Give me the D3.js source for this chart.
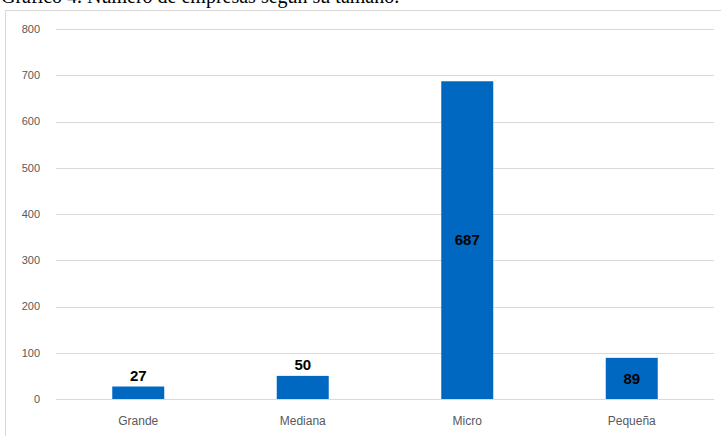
<!DOCTYPE html>
<html>
<head>
<meta charset="utf-8">
<script src="https://cdn.jsdelivr.net/npm/d3@7"></script>
<style>
body { margin: 0; background: #fff; }
svg { display: block; }
</style>
</head>
<body>
<svg></svg>
<script>
// datos del gráfico
var categories = ["Grande", "Mediana", "Micro", "Pequeña"];
var values = [27, 50, 687, 89];
var yTicks = [0, 100, 200, 300, 400, 500, 600, 700, 800];
var title = "Gráfico 4. Número de empresas según su tamaño.";

var svgWidth = 721, svgHeight = 436;
var plotLeft = 56, plotRight = 714, plotTop = 29, plotBottom = 399;

var svg = d3.select('svg')
    .attr("width", svgWidth)
    .attr("height", svgHeight);

// titulo (cortado arriba, como en la imagen)
svg.append("text")
    .attr("x", 1)
    .attr("y", 3)
    .attr("font-family", "Liberation Serif, Times New Roman, serif")
    .attr("font-size", 20)
    .attr("fill", "#000")
    .text(title);

// marco del grafico
svg.append("rect")
    .attr("x", 5.5)
    .attr("y", 10.5)
    .attr("width", 716)
    .attr("height", 430)
    .attr("fill", "none")
    .attr("stroke", "#d9d9d9");

var xScale = d3.scaleBand()
    .domain(categories)
    .range([plotLeft, plotRight])
    .paddingInner(0.684)
    .paddingOuter(0.342);

var yScale = d3.scaleLinear()
    .domain([0, 800])
    .range([plotBottom, plotTop]);

// rejilla
svg.selectAll("line.grid")
    .data(yTicks)
    .enter()
    .append("line")
    .attr("class", "grid")
    .attr("x1", plotLeft)
    .attr("x2", plotRight)
    .attr("y1", function (d) { return Math.round(yScale(d)) + 0.5; })
    .attr("y2", function (d) { return Math.round(yScale(d)) + 0.5; })
    .attr("stroke", "#d9d9d9")
    .attr("stroke-width", 1);

// etiquetas eje y
svg.selectAll("text.ytick")
    .data(yTicks)
    .enter()
    .append("text")
    .attr("class", "ytick")
    .attr("x", 40)
    .attr("y", function (d) { return yScale(d); })
    .attr("dy", "0.35em")
    .attr("text-anchor", "end")
    .attr("font-family", "Liberation Sans, Arial, sans-serif")
    .attr("font-size", 11)
    .attr("fill", "#595959")
    .text(function (d) { return d; });

// barras
svg.selectAll("rect.bar")
    .data(values)
    .enter()
    .append("rect")
    .attr("class", "bar")
    .attr("x", function (d, i) { return xScale(categories[i]); })
    .attr("y", function (d) { return yScale(d); })
    .attr("width", xScale.bandwidth())
    .attr("height", function (d) { return yScale(0) - yScale(d); })
    .attr("fill", "#0068c0");

// etiquetas de datos
svg.selectAll("text.val")
    .data(values)
    .enter()
    .append("text")
    .attr("class", "val")
    .attr("x", function (d, i) { return xScale(categories[i]) + xScale.bandwidth() / 2; })
    .attr("y", function (d) {
        var h = yScale(0) - yScale(d);
        if (h > 30) return yScale(d) + h / 2;
        return yScale(d) - 11;
    })
    .attr("dy", "0.35em")
    .attr("text-anchor", "middle")
    .attr("font-family", "Liberation Sans, Arial, sans-serif")
    .attr("font-weight", "bold")
    .attr("font-size", 15)
    .attr("fill", "#000")
    .text(function (d) { return d; });

// etiquetas eje x
svg.selectAll("text.xtick")
    .data(categories)
    .enter()
    .append("text")
    .attr("class", "xtick")
    .attr("x", function (d) { return xScale(d) + xScale.bandwidth() / 2; })
    .attr("y", 421)
    .attr("dy", "0.35em")
    .attr("text-anchor", "middle")
    .attr("font-family", "Liberation Sans, Arial, sans-serif")
    .attr("font-size", 12)
    .attr("fill", "#595959")
    .text(function (d) { return d; });
</script>
</body>
</html>
